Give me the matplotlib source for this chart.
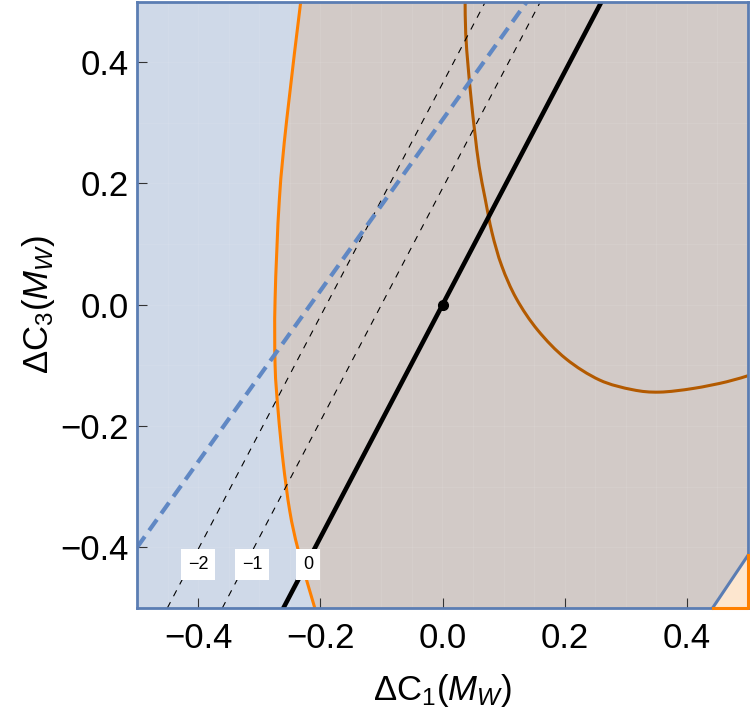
import numpy as np
import matplotlib.pyplot as plt
from matplotlib.path import Path
from matplotlib.patches import PathPatch

plt.rcParams['font.family'] = ['Liberation Sans', 'DejaVu Sans']
plt.rcParams['mathtext.fontset'] = 'custom'
plt.rcParams['mathtext.rm'] = 'Liberation Sans'
plt.rcParams['mathtext.it'] = 'Liberation Sans:italic'

# boundary of the large (orange) region
orange_x = [-0.232, -0.255, -0.267, -0.274, -0.274, -0.269, -0.261, -0.250, -0.236, -0.209]
orange_y = [0.50, 0.305, 0.174, 0.01, -0.10, -0.176, -0.258, -0.340, -0.405, -0.50]

# dark orange U-shaped curve
dark_x = [0.037, 0.038, 0.042, 0.047, 0.053, 0.060, 0.070, 0.081, 0.097,
          0.121, 0.156, 0.202, 0.257, 0.311, 0.355, 0.410, 0.465, 0.503]
dark_y = [0.50, 0.447, 0.392, 0.338, 0.283, 0.228, 0.174, 0.119, 0.064,
          0.010, -0.042, -0.089, -0.124, -0.140, -0.144, -0.138, -0.127, -0.116]

# contour lines x = x0 + y / slope
slope = 1.92
levels = ['\u22122', '\u22121', '0']
level_x0 = [-0.19, -0.10, 0.0]
label_x = [-0.40, -0.312, -0.22]
label_y = -0.428

# blue dashed line: y = y_left + blue_slope * (x + 0.5)
blue_slope = 1.41
blue_y_left = -0.40

# corner region boundary: y = -0.5 + corner_slope * (x - corner_x0)
corner_slope = 1.5
corner_x0 = 0.442

ticks = [-0.4, -0.2, 0.0, 0.2, 0.4]

c_blue_bg = '#cfd9e8'
c_grey = '#d2cac7'
c_peach = '#fde6cf'
c_frame = '#5b7db3'
c_orange = '#ff8000'
c_dark = '#b35a00'
c_dash = '#6088c4'


def smooth_path(xs, ys):
    # Catmull-Rom through the read points, drawn as cubic Bezier segments
    p = np.column_stack([xs, ys])
    p = np.vstack([p[0], p, p[-1]])
    verts = [p[1]]
    codes = [Path.MOVETO]
    for i in range(1, len(p) - 2):
        c1 = p[i] + (p[i + 1] - p[i - 1]) / 6
        c2 = p[i + 1] - (p[i + 2] - p[i]) / 6
        verts += [c1, c2, p[i + 1]]
        codes += [Path.CURVE4] * 3
    return verts, codes


fig = plt.figure(figsize=(7.5, 7.23), dpi=100)
ax = fig.add_axes([0.1827, 0.159, 0.8146, 0.8389])
ax.set_xlim(-0.5, 0.5)
ax.set_ylim(-0.5, 0.5)
ax.set_facecolor(c_blue_bg)

# grey region inside the orange curve
ov, oc = smooth_path(orange_x, orange_y)
fill_v = ov + [(0.5, orange_y[-1]), (0.5, orange_y[0]), ov[0]]
fill_c = oc + [Path.LINETO, Path.LINETO, Path.CLOSEPOLY]
ax.add_patch(PathPatch(Path(fill_v, fill_c), facecolor=c_grey, lw=0, zorder=1))

# faint mesh lines
for v in np.arange(-0.5, 0.51, 0.05):
    ax.axvline(v, color='white', lw=0.8, alpha=0.08, zorder=1.5)
for v in np.arange(-0.5, 0.51, 0.1):
    ax.axhline(v, color='white', lw=0.8, alpha=0.08, zorder=1.5)

# peach corner
cx = np.array([corner_x0, 0.5])
cy = -0.5 + corner_slope * (cx - corner_x0)
ax.fill_between(cx, -0.5, cy, color=c_peach, lw=0, zorder=2)
ax.plot(cx, cy, color=c_frame, lw=2.2, zorder=3, clip_on=False)
ax.plot([corner_x0, 0.5, 0.5], [-0.5, -0.5, cy[-1]], color=c_orange, lw=2.2,
        zorder=6, clip_on=False)

# curves
ax.add_patch(PathPatch(Path(ov, oc), facecolor='none', edgecolor=c_orange,
                       lw=2.2, zorder=4))
dv, dc = smooth_path(dark_x, dark_y)
ax.add_patch(PathPatch(Path(dv, dc), facecolor='none', edgecolor=c_dark,
                       lw=2.2, zorder=4))

# contour lines
yy = np.array([-0.5, 0.5])
for lab, x0 in zip(levels, level_x0):
    xx = x0 + yy / slope
    if lab == '0':
        ax.plot(xx, yy, color='black', lw=3.3, zorder=5)
    else:
        ax.plot(xx, yy, color='black', lw=0.8, dashes=(6, 6), zorder=5)
for lab, lx in zip(levels, label_x):
    ax.text(lx, label_y, lab, fontsize=13, ha='center', va='center', zorder=7,
            bbox=dict(facecolor='white', edgecolor='none', pad=5))

# blue dashed line
bx = np.array([-0.5, 0.5])
ax.plot(bx, blue_y_left + blue_slope * (bx + 0.5), color=c_dash, lw=3,
        dashes=(3.2, 1.8), zorder=5)

ax.plot([0], [0], 'o', color='black', ms=7, zorder=6)

for s in ax.spines.values():
    s.set_color(c_frame)
    s.set_linewidth(2)
    s.set_zorder(5)

ax.set_xticks(ticks)
ax.set_yticks(ticks)
ax.set_xticklabels([('%.1f' % t).replace('-', '\u2212') for t in ticks])
ax.set_yticklabels([('%.1f' % t).replace('-', '\u2212') for t in ticks])
ax.tick_params(direction='in', length=7, width=0.8, color='#333333',
               labelsize=25, top=False, right=False)
ax.tick_params(axis='x', pad=10)
ax.tick_params(axis='y', pad=6)

ax.set_xlabel(r'$\Delta\mathrm{C}_1(M_W)$', fontsize=25, labelpad=12)
ax.set_ylabel(r'$\Delta\mathrm{C}_3(M_W)$', fontsize=25, labelpad=2)

fig.savefig('out.png', dpi=100, facecolor='white')
